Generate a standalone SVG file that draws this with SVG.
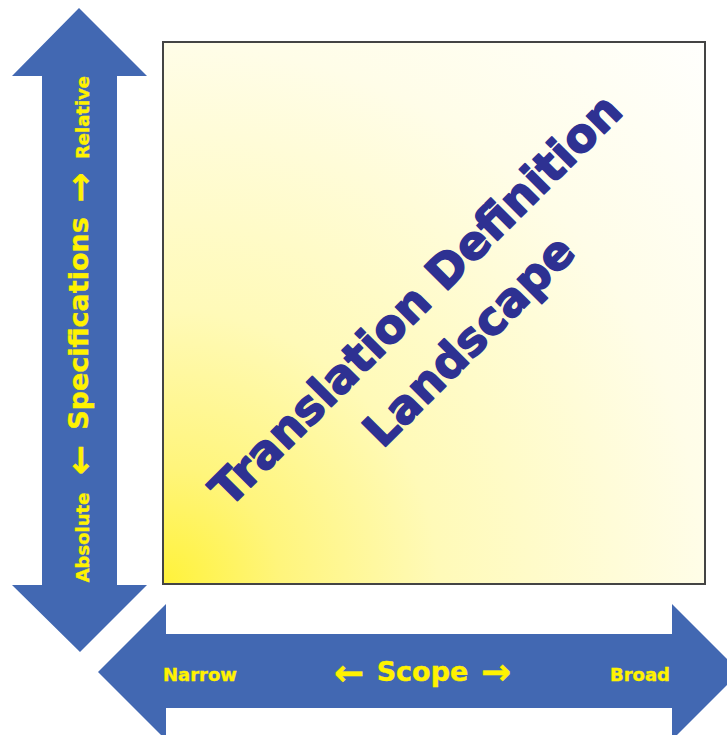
<svg xmlns="http://www.w3.org/2000/svg" width="727" height="735" viewBox="0 0 727 735">
  <style>
    .arrow { fill: #4268b2; }
    .lbl { font-family: "DejaVu Sans", "Liberation Sans", sans-serif; font-weight: bold; fill: #fff200; stroke: #fff200; stroke-width: 0.4; }
    .sm { font-size: 18px; }
    .big { font-size: 27px; }
    .sym { font-size: 36px; }
    .title { font-family: "DejaVu Sans", "Liberation Sans", sans-serif; font-weight: bold; font-size: 46px; fill: #2e3192; stroke: #2e3192; stroke-width: 1.6; stroke-linejoin: round; text-anchor: middle; }
  </style>
  <defs>
    <radialGradient id="bg" cx="0" cy="1" r="1.45" fx="0" fy="1">
      <stop offset="0" stop-color="#fff23a"/>
      <stop offset="0.15" stop-color="#fff57c"/>
      <stop offset="0.35" stop-color="#fffab8"/>
      <stop offset="0.69" stop-color="#fffde8"/>
      <stop offset="1" stop-color="#ffffff"/>
    </radialGradient>
  </defs>
  <rect width="727" height="735" fill="#ffffff"/>

  <g id="landscape">
    <rect x="163" y="42" width="542" height="542" fill="url(#bg)" stroke="#444444" stroke-width="2"/>
    <text class="title" transform="translate(427,311) rotate(-45)">Translation Definition</text>
    <text class="title" transform="translate(480,352) rotate(-45)">Landscape</text>
  </g>

  <g id="connectors">
    <g id="specifications-axis">
      <polygon class="arrow" points="79,8 147,76 117,76 117,585 147,585 80,652 12,585 42,585 42,76 12,76"/>
      <text class="lbl sm" text-anchor="middle" transform="translate(89,117.5) rotate(-90)">Relative</text>
      <text class="lbl sym" text-anchor="middle" transform="translate(92,187.5) rotate(-90)">→</text>
      <text class="lbl big" text-anchor="middle" transform="translate(88,323.5) rotate(-90)">Specifications</text>
      <text class="lbl sym" text-anchor="middle" transform="translate(92,460) rotate(-90)">←</text>
      <text class="lbl sm" text-anchor="middle" transform="translate(89,537.5) rotate(-90)">Absolute</text>
    </g>
    <g id="scope-axis">
      <polygon class="arrow" points="98,672 166,604 166,634 672,634 672,604 740,672 672,740 672,708 166,708 166,740"/>
      <text class="lbl sm" x="163" y="681">Narrow</text>
      <text class="lbl sym" text-anchor="middle" x="349" y="685">←</text>
      <text class="lbl big" text-anchor="middle" x="422.5" y="681">Scope</text>
      <text class="lbl sym" text-anchor="middle" x="496" y="684">→</text>
      <text class="lbl sm" x="610" y="681">Broad</text>
    </g>
  </g>
</svg>
